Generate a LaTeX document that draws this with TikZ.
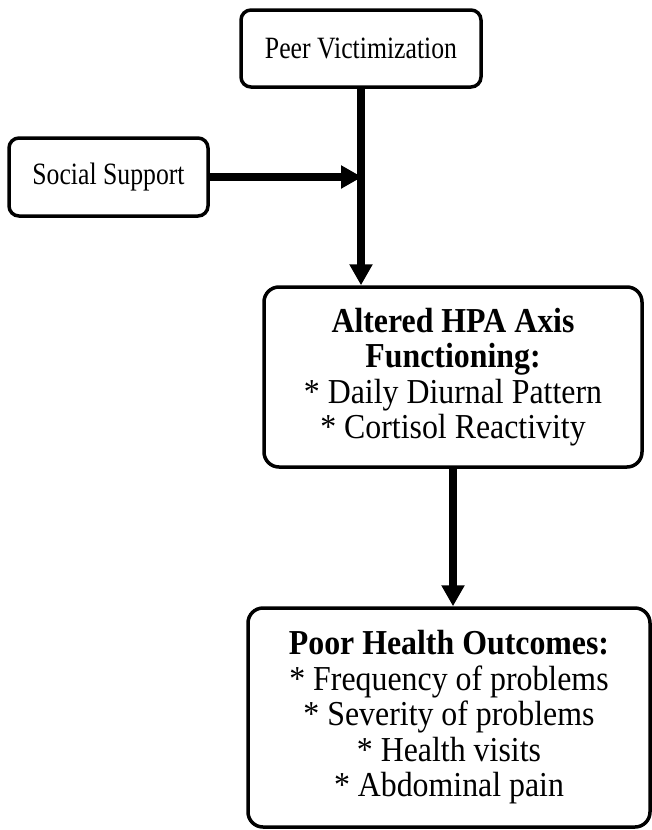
\documentclass[tikz,border=0pt]{standalone}
\usepackage{fontspec}
\setmainfont{Liberation Serif}
\newfontfamily\smallboxfont{Liberation Serif}[FakeStretch=0.83]
\newfontfamily\bigboxfont{Liberation Serif}[FakeStretch=0.91]
\usetikzlibrary{arrows.meta}
\begin{document}
\begin{tikzpicture}[x=1pt,y=-1pt,
  smallbox/.style={draw, line width=3.5pt, rounded corners=10pt, align=center,
    inner sep=0pt, font=\smallboxfont\fontsize{31}{34}\selectfont},
  bigbox/.style={draw, line width=3.5pt, rounded corners=15pt, align=center,
    inner sep=0pt, font=\bigboxfont\fontsize{35}{35.5}\selectfont},
  flow/.style={line width=7.5pt, -{Triangle[length=21pt,width=22pt]}}]
\useasboundingbox (0,0) rectangle (652,830);

% boxes
\node[smallbox, minimum width=240pt, minimum height=77pt] (pv) at (361,48.5) {Peer Victimization};
\node[smallbox, minimum width=199pt, minimum height=78pt] (ss) at (108.5,177) {Social Support};
\node[bigbox, minimum width=378pt, minimum height=180pt] (hpa) at (453,377)
  {\textbf{Altered HPA Axis}\\\textbf{Functioning:}\\* Daily Diurnal Pattern\\* Cortisol Reactivity};
\node[bigbox, minimum width=402pt, minimum height=219pt] (pho) at (449,717.5)
  {\textbf{Poor Health Outcomes:}\\* Frequency of problems\\* Severity of problems\\* Health visits\\* Abdominal pain};

% connectors
\coordinate (junction) at (pv.south |- ss.east);
\draw[flow] (pv.south) -- (pv.south |- hpa.north);
\draw[flow, shorten >=-1pt] (ss.east) -- (junction);
\draw[flow] (hpa.south) -- (hpa.south |- pho.north);
\end{tikzpicture}
\end{document}
